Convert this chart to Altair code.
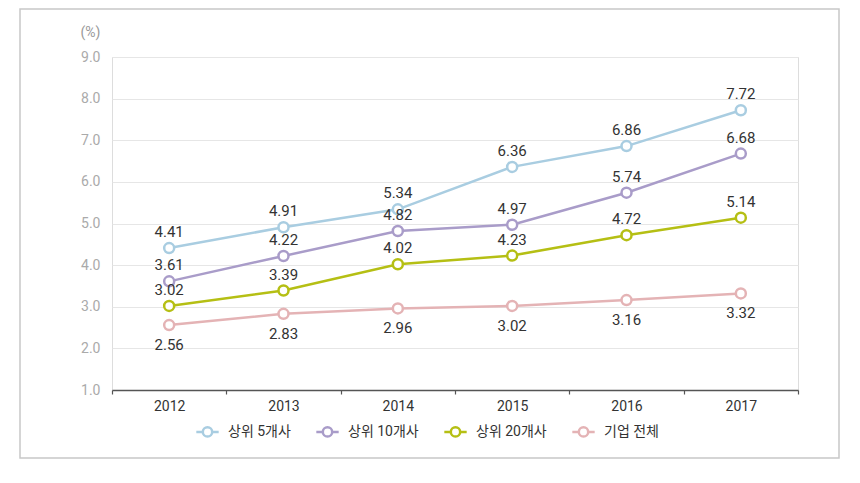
import altair as alt
import pandas as pd

years = ["2012", "2013", "2014", "2015", "2016", "2017"]
series = ["상위 5개사", "상위 10개사", "상위 20개사", "기업 전체"]
top5 = [4.41, 4.91, 5.34, 6.36, 6.86, 7.72]
top10 = [3.61, 4.22, 4.82, 4.97, 5.74, 6.68]
top20 = [3.02, 3.39, 4.02, 4.23, 4.72, 5.14]
total = [2.56, 2.83, 2.96, 3.02, 3.16, 3.32]
colors = ["#a9cde1", "#a99cc9", "#b5bf14", "#e4b3b5"]
y_ticks = [1, 2, 3, 4, 5, 6, 7, 8, 9]

rows = []
for name, vals in zip(series, [top5, top10, top20, total]):
    for yr, v in zip(years, vals):
        rows.append({"year": yr, "series": name, "value": v})
df = pd.DataFrame(rows)

FONT = "Roboto, Noto Sans CJK KR"

x_enc = alt.X("year:O", scale=alt.Scale(type="band", paddingInner=0, paddingOuter=0),
              axis=alt.Axis(title=None, labelAngle=0, labelColor="#333", labelFontSize=14,
                            labelFont=FONT, labelPadding=5, domainColor="#555", domainWidth=1.5,
                            tickColor="#555", tickSize=4, tickWidth=1.2, tickBand="extent",
                            grid=False))
y_enc = alt.Y("value:Q", scale=alt.Scale(domain=[1, 9], nice=False, zero=False),
              axis=alt.Axis(values=y_ticks, format=".1f", title="(%)", titleAngle=0,
                            titleX=-12, titleY=-25, titleAlign="right", titleBaseline="middle",
                            titleColor="#999", titleFontSize=14, titleFontWeight="normal",
                            titleFont=FONT,
                            labelColor="#aaa", labelFontSize=14, labelFont=FONT,
                            labelPadding=12, domain=False, ticks=False,
                            gridColor="#e6e6e6", gridWidth=1.2))
color_enc = alt.Color("series:N", scale=alt.Scale(domain=series, range=colors),
                      legend=alt.Legend(title=None, orient="none", direction="horizontal",
                                        legendX=83, legendY=362, columnPadding=20,
                                        symbolType="M -1 0 L -0.42 0 M 0.42 0 L 1 0 M 0.42 0 A 0.42 0.42 0 1 1 -0.42 0 A 0.42 0.42 0 1 1 0.42 0",
                                        symbolSize=500, symbolStrokeWidth=2.5,
                                        symbolFillColor="white", labelFontSize=14,
                                        labelFont=FONT, labelColor="#333", labelOffset=8))

base = alt.Chart(df)

frame = alt.Chart(pd.DataFrame({"a": [0]})).mark_rect(
    fill=None, stroke="#c8c8c8", strokeWidth=1.5, clip=False
).encode(x=alt.value(-92), x2=alt.value(727), y=alt.value(-48), y2=alt.value(401))

lines = base.mark_line(strokeWidth=2.5).encode(x=x_enc, y=y_enc, color=color_enc)
points = base.mark_point(filled=True, fill="white", size=100, strokeWidth=2.5, opacity=1).encode(
    x="year:O", y="value:Q",
    stroke=alt.Stroke("series:N", scale=alt.Scale(domain=series, range=colors), legend=None))

above = base.transform_filter(alt.datum.series != "기업 전체").mark_text(
    dy=-16, fontSize=15, font=FONT, color="#333").encode(
    x="year:O", y="value:Q", text=alt.Text("value:Q", format=".2f"))
below = base.transform_filter(alt.datum.series == "기업 전체").mark_text(
    dy=20, fontSize=15, font=FONT, color="#333").encode(
    x="year:O", y="value:Q", text=alt.Text("value:Q", format=".2f"))

chart = alt.layer(frame, lines, points, above, below).properties(
    width=686, height=333,
    autosize=alt.AutoSizeParams(type="none"),
    padding={"left": 104, "top": 49, "right": 50, "bottom": 78},
).configure_view(stroke=None).configure(background="white")

chart.save("out.html", embed_options={"renderer": "svg", "actions": False})
